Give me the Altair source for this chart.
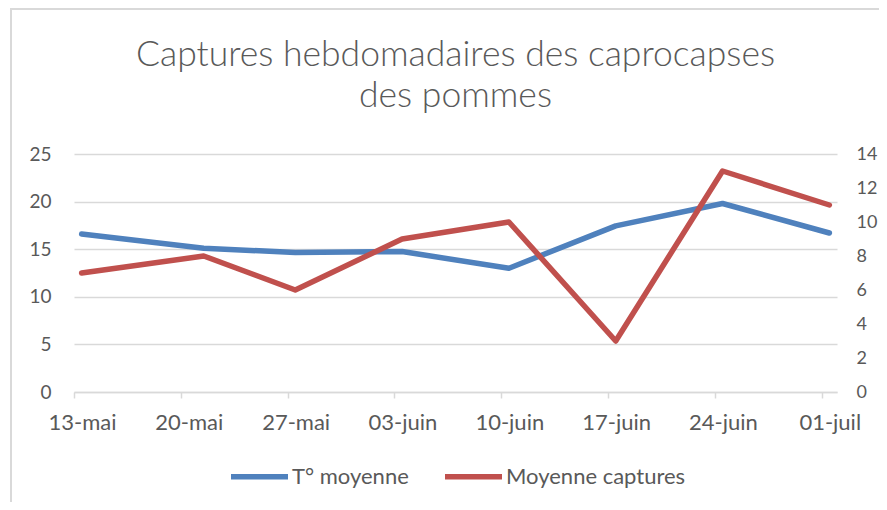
import json
import altair as alt
import pandas as pd

# ---- data ----
start_date = "2019-05-13"
point_dates = ["2019-05-13", "2019-05-21", "2019-05-27", "2019-06-03",
               "2019-06-10", "2019-06-17", "2019-06-24", "2019-07-01"]
tick_dates = ["2019-05-13", "2019-05-20", "2019-05-27", "2019-06-03",
              "2019-06-10", "2019-06-17", "2019-06-24", "2019-07-01"]
tick_labels = ["13-mai", "20-mai", "27-mai", "03-juin",
               "10-juin", "17-juin", "24-juin", "01-juil"]
temperature = [16.6, 15.1, 14.65, 14.75, 13.0, 17.45, 19.8, 16.7]
captures = [7, 8, 6, 9, 10, 3, 13, 11]
series_names = ["T° moyenne", "Moyenne captures"]
series_colors = ["#4F81BD", "#C0504D"]
left_ticks = [0, 5, 10, 15, 20, 25]
right_ticks = [0, 2, 4, 6, 8, 10, 12, 14]

# Excel date axis: one slot per day, points at the slot centre
t0 = pd.Timestamp(start_date)
day_pos = [(pd.Timestamp(d) - t0).days + 0.5 for d in point_dates]
tick_pos = [(pd.Timestamp(d) - t0).days for d in tick_dates]
n_days = (pd.Timestamp(point_dates[-1]) - t0).days + 1

df = pd.DataFrame({
    "jour": day_pos + day_pos,
    "valeur": temperature + captures,
    "serie": [series_names[0]] * len(day_pos) + [series_names[1]] * len(day_pos),
})

TEXT = "#595959"
GRID = "#D9D9D9"
FONT = "Lato"

label_map = "{" + ",".join(f"{json.dumps(str(p))}:{json.dumps(l)}" for p, l in zip(tick_pos, tick_labels)) + "}"

x = alt.X(
    "jour:Q",
    scale=alt.Scale(domain=[0, n_days], nice=False, zero=False),
    axis=alt.Axis(
        values=tick_pos, labelExpr=f"{label_map}[''+datum.value]", title=None,
        grid=False, domainColor=GRID, domainWidth=1.5, tickColor=GRID,
        tickWidth=1.5, tickSize=6, labelOffset=8, labelPadding=14,
        labelFlush=False, labelOverlap=False,
        labelFontSize=22, labelColor=TEXT, labelFont=FONT,
    ),
)

color = alt.Color(
    "serie:N",
    scale=alt.Scale(domain=series_names, range=series_colors),
    legend=alt.Legend(
        orient="none", legendX=154, legendY=291, direction="horizontal",
        title=None, symbolType="stroke", symbolSize=3249, symbolStrokeWidth=5.5,
        labelFontSize=22, labelColor=TEXT, labelFont=FONT, labelOffset=1,
        labelLimit=400, columnPadding=25, padding=0,
    ),
)

line_style = dict(strokeWidth=5.5, strokeCap="round", strokeJoin="round")

left = alt.Chart(df).transform_filter(
    alt.datum.serie == series_names[0]
).mark_line(**line_style).encode(
    x=x,
    y=alt.Y(
        "valeur:Q",
        scale=alt.Scale(domain=[0, 25], nice=False, zero=True),
        axis=alt.Axis(
            values=left_ticks, title=None, grid=True, gridColor=GRID, gridWidth=1.5,
            domain=False, ticks=False, labelPadding=23, labelFontSize=19,
            labelColor=TEXT, labelFont=FONT,
        ),
    ),
    color=color,
)

right = alt.Chart(df).transform_filter(
    alt.datum.serie == series_names[1]
).mark_line(**line_style).encode(
    x=x,
    y=alt.Y(
        "valeur:Q",
        scale=alt.Scale(domain=[0, 14], nice=False, zero=True),
        axis=alt.Axis(
            orient="right", values=right_ticks, title=None, grid=False,
            domain=False, ticks=False, labelPadding=19, labelFontSize=18,
            labelColor=TEXT, labelFont=FONT,
        ),
    ),
    color=color,
)

# light chart-area frame (left and top edges, as in the cropped Excel picture)
frame_df = pd.DataFrame({"k": [0]})
frame_left = alt.Chart(frame_df).mark_rule(color=GRID, strokeWidth=2).encode(
    x=alt.value(-63), y=alt.value(-145), y2=alt.value(400)
)
frame_top = alt.Chart(frame_df).mark_rule(color=GRID, strokeWidth=2).encode(
    x=alt.value(-64), x2=alt.value(820), y=alt.value(-145)
)

chart = alt.layer(left, right, frame_left, frame_top).resolve_scale(
    y="independent"
).properties(
    width=763,
    height=238,
    autosize=alt.AutoSizeParams(type="none"),
    padding={"left": 66, "top": 146, "right": 42, "bottom": 110},
    title=alt.Title(
        ["Captures hebdomadaires des caprocapses", "des pommes"],
        fontSize=35.5, font=FONT, fontWeight=300, color=TEXT,
        anchor="middle", lineHeight=41, offset=-106,
    ),
).configure_view(stroke=None)

chart.save("out.html", embed_options={"renderer": "svg", "actions": False})
